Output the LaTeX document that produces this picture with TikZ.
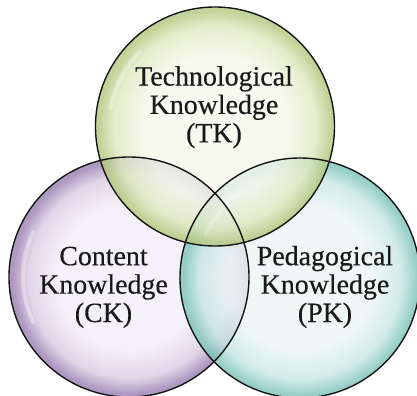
\documentclass[tikz,border=0pt]{standalone}
\usepackage{fontspec}
\setmainfont{Liberation Serif}[FakeBold=0.35]
\definecolor{tkin}{HTML}{F5F8EB}
\definecolor{tkmid}{HTML}{E0E9C2}
\definecolor{tkrim}{HTML}{B5C982}
\definecolor{ckin}{HTML}{F3EEF6}
\definecolor{ckmid}{HTML}{DACDE3}
\definecolor{ckrim}{HTML}{9B81B2}
\definecolor{pkin}{HTML}{ECF6F5}
\definecolor{pkmid}{HTML}{C9E7E2}
\definecolor{pkrim}{HTML}{80C5BB}
\pgfdeclareradialshading{tkshade}{\pgfpoint{0bp}{0bp}}{color(0bp)=(tkin); color(15bp)=(tkin); color(21bp)=(tkmid); color(24.3bp)=(tkrim); color(25bp)=(tkrim); color(50bp)=(tkrim)}
\pgfdeclareradialshading{ckshade}{\pgfpoint{0bp}{0bp}}{color(0bp)=(ckin); color(15bp)=(ckin); color(21bp)=(ckmid); color(24.3bp)=(ckrim); color(25bp)=(ckrim); color(50bp)=(ckrim)}
\pgfdeclareradialshading{pkshade}{\pgfpoint{0bp}{0bp}}{color(0bp)=(pkin); color(15bp)=(pkin); color(21bp)=(pkmid); color(24.3bp)=(pkrim); color(25bp)=(pkrim); color(50bp)=(pkrim)}
\begin{document}
\begin{tikzpicture}[x=1bp,y=-1bp,
  bubble/.style={fill opacity=0.82},
  rimline/.style={draw=black!92,line width=1.4bp},
  gloss/.style={draw=white,line width=4bp,line cap=round,opacity=0.35},
  label/.style={font=\fontsize{28}{28.5}\selectfont,align=center,text=black!90,inner sep=0pt,anchor=base}]
\useasboundingbox (0,0) rectangle (417,396);
\clip (0,0) rectangle (417,396);
\coordinate (tc) at (215,126.5);
\coordinate (cc) at (129,277);
\coordinate (pc) at (300,278);
% fills
\shade[bubble,shading=ckshade] (cc) circle[radius=120];
\shade[bubble,shading=pkshade] (pc) circle[radius=120];
\shade[bubble,shading=tkshade] (tc) circle[radius=119.5];
% gloss highlights
\draw[gloss] ([shift={(155:106)}]cc) arc[start angle=155,end angle=205,radius=106];
\draw[gloss] ([shift={(190:106)}]tc) arc[start angle=190,end angle=225,radius=106];
\draw[gloss,opacity=0.25] ([shift={(205:104)}]pc) arc[start angle=205,end angle=235,radius=104];
% outlines
\draw[rimline] (cc) circle[radius=120];
\draw[rimline] (pc) circle[radius=120];
\draw[rimline] (tc) circle[radius=119.5];
% labels
\node[label] (tk) at (214,142.3) {Technological\\Knowledge\\(TK)};
\node[label] (ck) at (103.5,322) {Content\\Knowledge\\(CK)};
\node[label] (pk) at (325,322) {Pedagogical\\Knowledge\\(PK)};
\end{tikzpicture}
\end{document}
